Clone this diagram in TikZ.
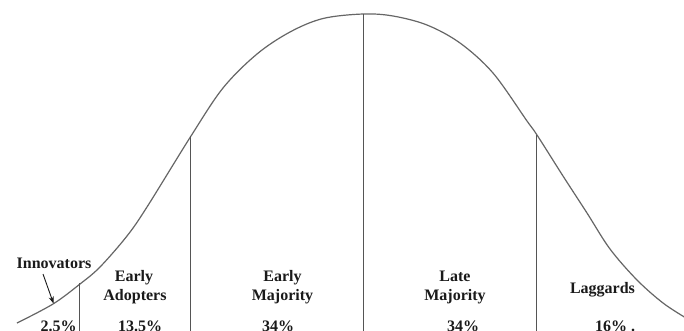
\documentclass[tikz,border=0pt]{standalone}
\usepackage{fontspec}
\setmainfont{Liberation Serif}
\usetikzlibrary{arrows.meta}
\definecolor{linegray}{HTML}{555555}
\definecolor{curvegray}{HTML}{666666}
\definecolor{textblack}{HTML}{1A1A1A}
\tikzset{
  lbl/.style={anchor=base, inner sep=0pt, text=textblack, font=\fontsize{16}{19}\selectfont\bfseries},
  divider/.style={draw=linegray, line width=1pt},
  bell/.style={draw=curvegray, line width=1.2pt},
  pointer/.style={draw=textblack, line width=0.9pt, -{Stealth[length=7pt,width=5pt]}}
}
\begin{document}
\begin{tikzpicture}[x=1pt,y=-1pt]
\useasboundingbox (0,0) rectangle (684,330);
\clip (0,0) rectangle (684,330);
\fill[white] (0,0) rectangle (684,330);

% bell curve
\draw[bell] plot[smooth, tension=0.55] coordinates {
 (17,323) (53,304) (80,284) (100,267) (127,236) (147,207) (191,136)
 (223,88) (257,54) (290,32) (323,18.5) (363,14) (393,16) (427,25)
 (460,43) (493,73) (527,121) (537,135) (563,176) (587,213) (610,249)
 (637,280) (663,303) (686,318)};

% divider coordinates
\coordinate (t1) at (79,283);   \coordinate (b1) at (79,331);
\coordinate (t2) at (190.7,135.5); \coordinate (b2) at (190.7,331);
\coordinate (t3) at (363,14);   \coordinate (b3) at (363,331);
\coordinate (t4) at (536.7,135); \coordinate (b4) at (536.7,331);
\draw[divider] (t1) -- (b1);
\draw[divider] (t2) -- (b2);
\draw[divider] (t3) -- (b3);
\draw[divider] (t4) -- (b4);

% labels
\node[lbl] (inn) at (54,268.5) {Innovators};
\node[lbl] (ea1) at (134,281) {Early};
\node[lbl] (ea2) at (135,300) {Adopters};
\node[lbl] (em1) at (282.5,281) {Early};
\node[lbl] (em2) at (282.5,300) {Majority};
\node[lbl] (lm1) at (455,281) {Late};
\node[lbl] (lm2) at (455,300) {Majority};
\node[lbl] (lag) at (602.5,293.5) {Laggards};

% percentages
\node[lbl] (p1) at (58.7,331.5) {2.5\%};
\node[lbl] (p2) at (140,331.5) {13.5\%};
\node[lbl] (p3) at (278,331.5) {34\%};
\node[lbl] (p4) at (463,331.5) {34\%};
\node[lbl] (p5) at (615,331.5) {16\% .};

% pointer arrow
\coordinate (tip) at (53.5,303.5);
\draw[pointer] (43,274) -- (tip);
\end{tikzpicture}
\end{document}
